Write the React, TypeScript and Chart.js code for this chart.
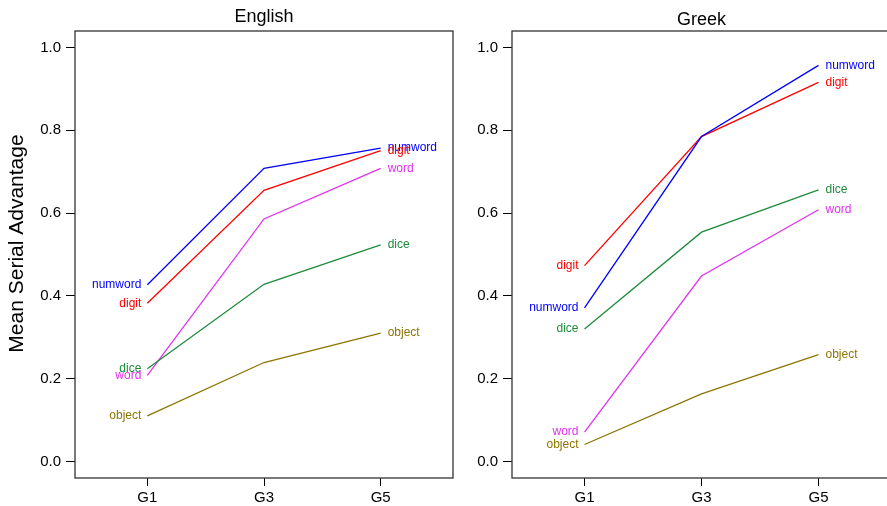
import React, { useEffect, useRef } from "react";
import { Chart, registerables } from "chart.js";

Chart.register(...registerables);

const categories = ["G1", "G3", "G5"];
const seriesNames = ["numword", "digit", "dice", "word", "object"];
const seriesColors = ["#0000FF", "#FF0000", "#1E8B3C", "#E033F0", "#8B7500"];

const englishNumword = [0.427, 0.708, 0.757];
const englishDigit = [0.382, 0.655, 0.751];
const englishDice = [0.224, 0.428, 0.523];
const englishWord = [0.208, 0.586, 0.708];
const englishObject = [0.11, 0.239, 0.31];

const greekNumword = [0.371, 0.785, 0.957];
const greekDigit = [0.473, 0.785, 0.916];
const greekDice = [0.32, 0.554, 0.656];
const greekWord = [0.071, 0.448, 0.608];
const greekObject = [0.041, 0.163, 0.258];

const yTicks = [0, 0.2, 0.4, 0.6, 0.8, 1.0];
const yAxisTitle = "Mean Serial Advantage";

const FONT = "'Liberation Sans', Arial, Helvetica, sans-serif";

type PanelProps = {
  title: string;
  series: number[][];
  left: number;
  width: number;
  yWidth: number;
  padRight: number;
  titleY: number;
  showYTitle: boolean;
};

function Panel({ title, series, left, width, yWidth, padRight, titleY, showYTitle }: PanelProps) {
  const ref = useRef<HTMLCanvasElement | null>(null);
  useEffect(() => {
    if (!ref.current) return;
    const decor = {
      id: "decor",
      afterDraw(chart: any) {
        const { ctx, chartArea } = chart;
        ctx.save();
        ctx.strokeStyle = "#333";
        ctx.lineWidth = 1.3;
        ctx.strokeRect(chartArea.left, chartArea.top, chartArea.right - chartArea.left, chartArea.bottom - chartArea.top);
        ctx.fillStyle = "#000";
        ctx.font = `18px ${FONT}`;
        ctx.textAlign = "center";
        ctx.textBaseline = "alphabetic";
        ctx.fillText(title, (chartArea.left + chartArea.right) / 2, titleY);
        if (showYTitle) {
          ctx.save();
          ctx.translate(17, (chartArea.top + chartArea.bottom) / 2 - 11);
          ctx.rotate(-Math.PI / 2);
          ctx.font = `21px ${FONT}`;
          ctx.textAlign = "center";
          ctx.textBaseline = "middle";
          ctx.fillText(yAxisTitle, 0, 0);
          ctx.restore();
        }
        ctx.font = `12px ${FONT}`;
        ctx.textBaseline = "middle";
        chart.data.datasets.forEach((ds: any, i: number) => {
          const meta = chart.getDatasetMeta(i);
          const first = meta.data[0];
          const last = meta.data[meta.data.length - 1];
          ctx.fillStyle = ds.borderColor;
          ctx.textAlign = "right";
          ctx.fillText(ds.label, first.x - 6, first.y);
          ctx.textAlign = "left";
          ctx.fillText(ds.label, last.x + 7, last.y);
        });
        ctx.restore();
      },
    };
    const chart = new Chart(ref.current, {
      type: "line",
      data: {
        datasets: seriesNames.map((n, i) => ({
          label: n,
          data: series[i].map((v, j) => ({ x: j, y: v })),
          borderColor: seriesColors[i],
          backgroundColor: seriesColors[i],
          borderWidth: 1.3,
          pointRadius: 0,
          fill: false,
          tension: 0,
        })),
      },
      options: {
        animation: false,
        responsive: false,
        devicePixelRatio: 1,
        layout: { padding: { top: 31, right: padRight, left: 0, bottom: 0 } },
        plugins: { legend: { display: false }, tooltip: { enabled: false }, title: { display: false } },
        scales: {
          x: {
            type: "linear",
            min: -0.62,
            max: 2.62,
            afterBuildTicks: (s: any) => {
              s.ticks = categories.map((_, i) => ({ value: i }));
            },
            afterFit: (s: any) => {
              s.height = 28;
            },
            ticks: {
              callback: (v: any) => categories[Math.round(Number(v))],
              font: { size: 15, family: FONT },
              color: "#000",
              padding: 3,
              maxRotation: 0,
              autoSkip: false,
            },
            grid: { drawOnChartArea: false, drawTicks: true, tickLength: 8, color: "#000", tickWidth: 1 },
            border: { display: false },
          },
          y: {
            type: "linear",
            min: -0.04,
            max: 1.04,
            afterBuildTicks: (s: any) => {
              s.ticks = yTicks.map((v) => ({ value: v }));
            },
            afterFit: (s: any) => {
              s.width = yWidth;
            },
            ticks: {
              callback: (v: any) => Number(v).toFixed(1),
              font: { size: 15, family: FONT },
              color: "#000",
              padding: 5,
              autoSkip: false,
            },
            grid: { drawOnChartArea: false, drawTicks: true, tickLength: 9, color: "#000", tickWidth: 1 },
            border: { display: false },
          },
        },
      },
      plugins: [decor],
    } as any);
    return () => chart.destroy();
  }, []);
  return (
    <canvas
      ref={ref}
      width={width}
      height={506}
      style={{ position: "absolute", left, top: 0, width, height: 506 }}
    />
  );
}

export default function App() {
  return (
    <div
      style={{
        position: "fixed",
        left: 0,
        top: 0,
        width: 887,
        height: 506,
        overflow: "hidden",
        background: "#fff",
      }}
    >
      <Panel
        title="English"
        series={[englishNumword, englishDigit, englishDice, englishWord, englishObject]}
        left={0}
        width={455}
        yWidth={75}
        padRight={2}
        titleY={22}
        showYTitle={true}
      />
      <Panel
        title="Greek"
        series={[greekNumword, greekDigit, greekDice, greekWord, greekObject]}
        left={455}
        width={440}
        yWidth={57}
        padRight={4}
        titleY={24.5}
        showYTitle={false}
      />
    </div>
  );
}
